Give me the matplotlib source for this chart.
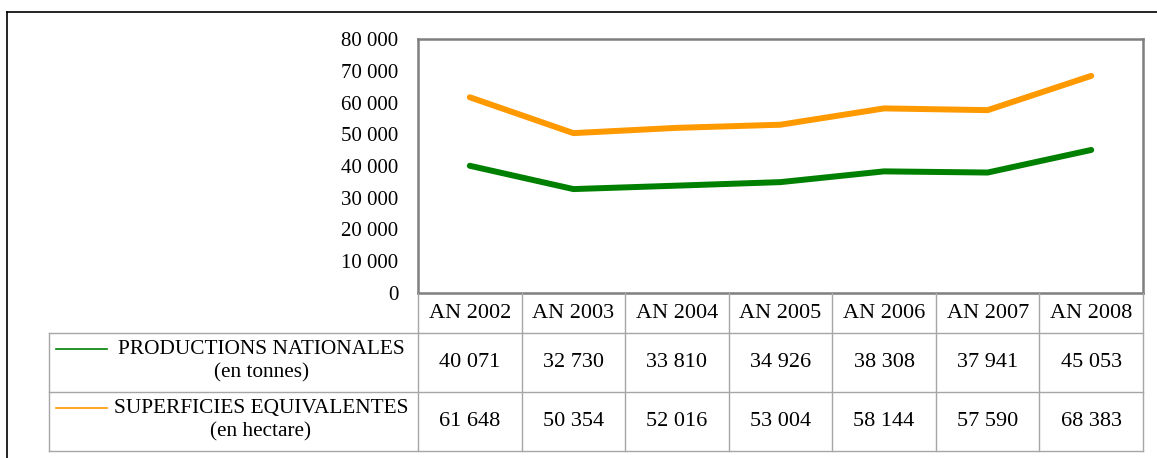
import matplotlib
matplotlib.use("Agg")
import matplotlib.pyplot as plt
from matplotlib.lines import Line2D
from matplotlib.ticker import FuncFormatter

plt.rcParams['font.family'] = ['Liberation Serif', 'DejaVu Serif']

# Donnees
annees = ["AN 2002", "AN 2003", "AN 2004", "AN 2005", "AN 2006", "AN 2007", "AN 2008"]
productions = [40071, 32730, 33810, 34926, 38308, 37941, 45053]  # en tonnes
superficies = [61648, 50354, 52016, 53004, 58144, 57590, 68383]  # en hectare
series_noms = [("PRODUCTIONS NATIONALES", "(en tonnes)"),
               ("SUPERFICIES EQUIVALENTES", "(en hectare)")]
couleurs = ["#008000", "#ff9900"]

W, H = 1157, 458
fig = plt.figure(figsize=(W / 100, H / 100), dpi=100)


def fx(x):
    return x / W


def fy(y):
    return 1 - y / H


# Zone du graphique (en pixels)
x0, x1, y0, y1 = 418, 1143, 39, 293
ax = fig.add_axes([fx(x0), fy(y1), fx(x1 - x0), (y1 - y0) / H])

xs = list(range(len(annees)))
ax.plot(xs, superficies, color=couleurs[1], lw=4.3, solid_capstyle='round')
ax.plot(xs, productions, color=couleurs[0], lw=4.3, solid_capstyle='round')

ax.set_xlim(-0.5, len(annees) - 0.5)
ax.set_ylim(0, 80000)
ax.set_yticks(range(0, 80001, 10000))
ax.yaxis.set_major_formatter(FuncFormatter(lambda v, p: f"{int(v):,}".replace(",", " ")))
ax.set_xticks([])
ax.tick_params(axis='y', length=0, pad=14, labelsize=15)
for s in ax.spines.values():
    s.set_color("#7f7f7f")
    s.set_linewidth(1.8)

# Tableau de donnees
grid = "#a6a6a6"
t_left, r0, r1, r2, r3 = 49, y1, 333, 392, 451
cw = (x1 - x0) / len(annees)
fs = 16


def hline(xa, xb, y, **kw):
    fig.add_artist(Line2D([fx(xa), fx(xb)], [fy(y), fy(y)], **kw))


def vline(x, ya, yb, **kw):
    fig.add_artist(Line2D([fx(x), fx(x)], [fy(ya), fy(yb)], **kw))


for y in (r1, r2, r3):
    hline(t_left, x1, y, color=grid, lw=1)
vline(t_left, r1, r3, color=grid, lw=1)
for i in range(len(annees) + 1):
    vline(x0 + i * cw, r0, r3, color=grid, lw=1)

for i, a in enumerate(annees):
    cx = x0 + (i + 0.5) * cw
    fig.text(fx(cx), fy((r0 + r1) / 2), a, ha='center', va='center', fontsize=fs)
    for vals, (ta, tb) in zip((productions, superficies), ((r1, r2), (r2, r3))):
        fig.text(fx(cx), fy((ta + tb) / 2), f"{vals[i]:,}".replace(",", " "),
                 ha='center', va='center', fontsize=fs)

for (nom, unite), c, (ta, tb) in zip(series_noms, couleurs, ((r1, r2), (r2, r3))):
    hline(56, 107, ta + 16, color=c, lw=1.2)
    fig.text(fx(261), fy(ta + 16), nom, ha='center', va='center', fontsize=15.3)
    fig.text(fx(261), fy(ta + 40), unite, ha='center', va='center', fontsize=15.3)

# Cadre exterieur
hline(7, W, 12, color="black", lw=1.2)
vline(7, 12, H, color="black", lw=1.2)

fig.savefig("out.png", dpi=100)
